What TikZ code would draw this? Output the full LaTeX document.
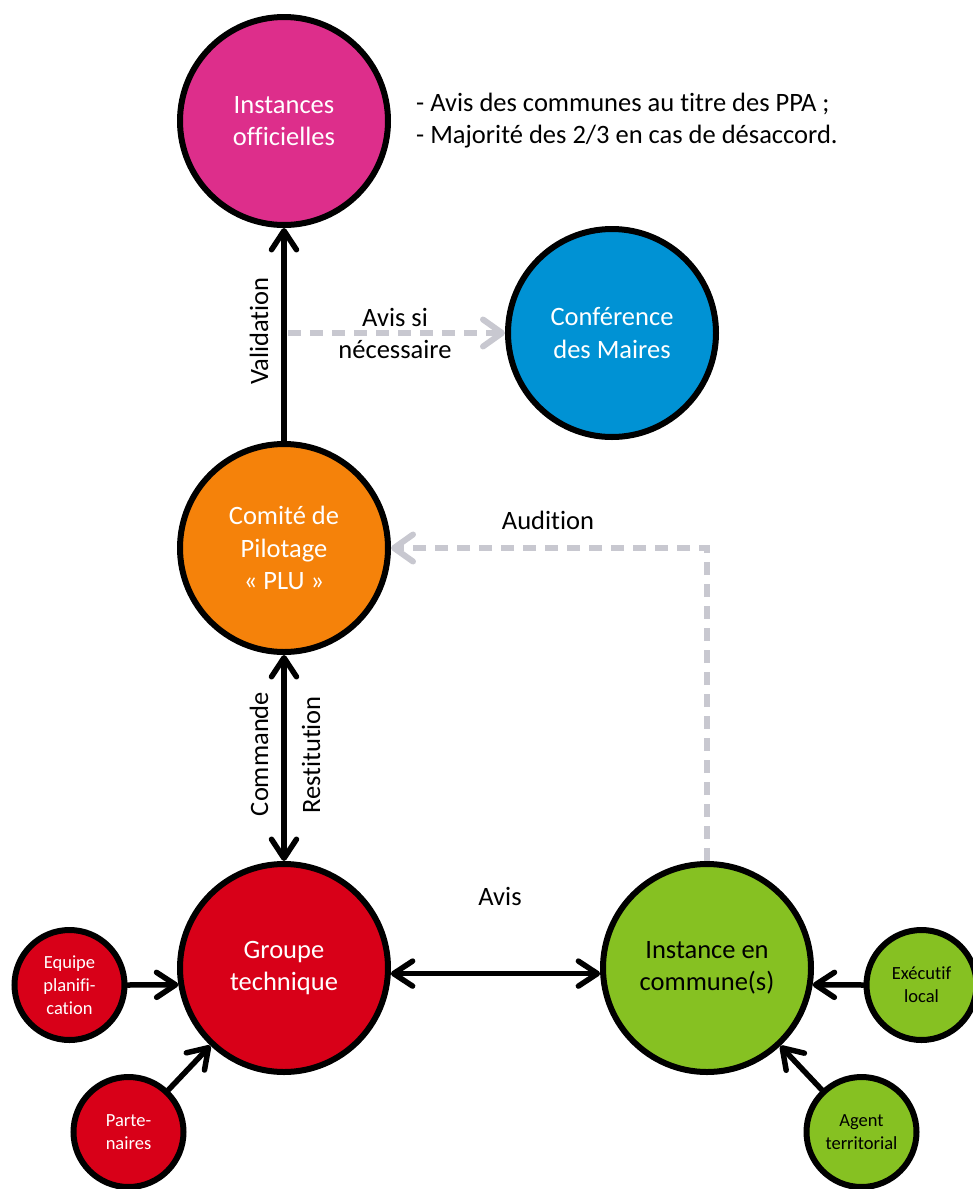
\documentclass[tikz,border=0pt]{standalone}
\usepackage{fontspec}
\setmainfont{Carlito}[Ligatures=NoCommon]
\usetikzlibrary{arrows.meta}
\definecolor{cmag}{RGB}{221,46,139}
\definecolor{cblue}{RGB}{0,146,212}
\definecolor{corange}{RGB}{245,130,10}
\definecolor{cred}{RGB}{216,0,24}
\definecolor{cgreen}{RGB}{134,193,34}
\definecolor{cdash}{RGB}{200,200,208}
\tikzset{
  bigcirc/.style={circle, draw=black, line width=6pt, minimum size=208pt, inner sep=0pt, align=center, font=\fontsize{26.5}{32.5}\selectfont},
  smallcirc/.style={circle, draw=black, line width=6pt, minimum size=110pt, inner sep=0pt, align=center, font=\fontsize{18.5}{22.7}\selectfont},
  lbl/.style={inner sep=0pt, align=center, font=\fontsize{26.5}{32}\selectfont},
  conn/.style={line width=5.5pt, draw=black, line cap=round, -{Straight Barb[length=19pt,width=25pt,line cap=round,line join=round]}},
  dconn/.style={line width=5.5pt, draw=black, {Straight Barb[length=19pt,width=25pt,line cap=round,line join=round]}-{Straight Barb[length=19pt,width=25pt,line cap=round,line join=round]}},
  dashconn/.style={line width=6pt, draw=cdash, dash pattern=on 13pt off 9pt, -{Straight Barb[length=19pt,width=27pt,line cap=round,line join=round]}}
}
\begin{document}
\begin{tikzpicture}[x=1pt,y=-1pt]
\useasboundingbox (0,0) rectangle (973,1189);
% circles
\node[bigcirc, fill=cmag, text=white] (inst) at (284,121) {Instances\\officielles};
\node[bigcirc, fill=cblue, text=white] (conf) at (612,333) {Conférence\\des Maires};
\node[bigcirc, fill=corange, text=white] (comite) at (284,548) {Comité de\\Pilotage\\« PLU »};
\node[bigcirc, fill=cred, text=white] (groupe) at (284,968) {Groupe\\technique};
\node[bigcirc, fill=cgreen, text=black] (commune) at (707,968) {Instance en\\commune(s)};
\node[smallcirc, fill=cred, text=white] (equipe) at (69.5,985) {Equipe\\planifi-\\cation};
\node[smallcirc, fill=cred, text=white] (parten) at (128.5,1132) {Parte-\\naires};
\node[smallcirc, fill=cgreen, text=black] (exec) at (921.5,985) {Exécutif\\local};
\node[smallcirc, fill=cgreen, text=black] (agent) at (861.5,1132) {Agent\\territorial};
% annotation
\node[lbl, anchor=west, align=left] (note) at (416,121) {- Avis des communes au titre des PPA ;\\- Majorité des 2/3 en cas de désaccord.};
% connectors
\coordinate (vmid) at (288,333);
\draw[dashconn] (vmid) -- (conf.west);
\draw[conn] (comite.north) -- (inst.south);
\draw[dconn] (comite.south) -- (groupe.north);
\draw[dashconn] (commune.north) |- (comite.east);
\draw[dconn] (groupe.-3.3) -- (commune.183.3);
\draw[conn] (equipe.east) -- (groupe.189);
\draw[conn] (parten) -- (groupe);
\draw[conn] (exec.west) -- (commune.351);
\draw[conn] (agent) -- (commune);
% labels
\node[lbl, rotate=90] (lvalid) at (259,331) {Validation};
\node[lbl] (lavissi) at (395,333) {Avis si\\nécessaire};
\node[lbl, rotate=90] (lcomm) at (259,754) {Commande};
\node[lbl, rotate=90] (lrest) at (311,755) {Restitution};
\node[lbl] (laud) at (548,520) {Audition};
\node[lbl] (lavis) at (500,896) {Avis};
\end{tikzpicture}
\end{document}
